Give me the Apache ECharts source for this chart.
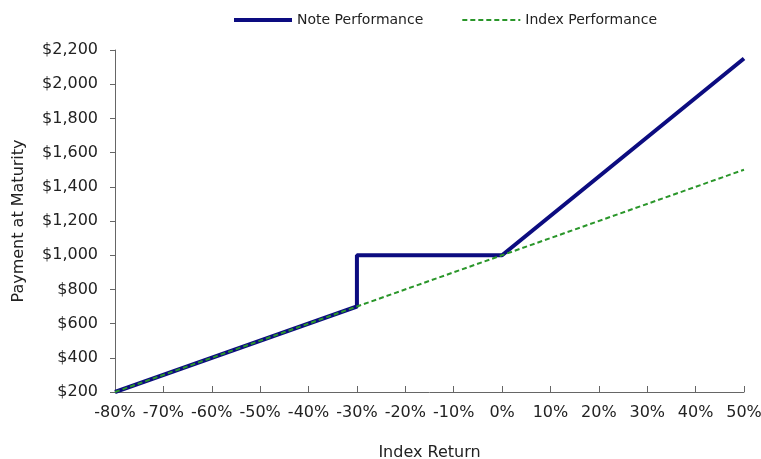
<!DOCTYPE html>
<html lang="en">
<head>
    <meta charset="UTF-8">
    <title>Note Performance</title>
    <script src="https://cdn.jsdelivr.net/npm/echarts@6/dist/echarts.min.js"></script>
    <style>
        html, body { margin: 0; padding: 0; background: #fff; }
        #main { width: 761px; height: 459px; }
    </style>
</head>
<body>
<div id="main"></div>
<script>
    // index return (%) and payment at maturity ($)
    var noteReturn = [-80, -30, -30, 0, 50];
    var notePayment = [200, 700, 1000, 1000, 2150];
    var indexReturn = [-80, 50];
    var indexPayment = [200, 1500];

    var xTicks = [-80, -70, -60, -50, -40, -30, -20, -10, 0, 10, 20, 30, 40, 50];
    var yTicks = [200, 400, 600, 800, 1000, 1200, 1400, 1600, 1800, 2000, 2200];

    function pairs(xs, ys) {
        var out = [];
        for (var i = 0; i < xs.length; i++) {
            out.push([xs[i], ys[i]]);
        }
        return out;
    }

    var font = 'DejaVu Sans';
    var noteColor = '#0c0c80';
    var indexColor = '#2a962a';
    var chart = echarts.init(document.getElementById('main'));
    var option = {
        animation: false,
        backgroundColor: '#fff',
        textStyle: { fontFamily: font },
        legend: {
            top: 8,
            left: 227,
            itemWidth: 58,
            itemHeight: 10,
            itemGap: 38,
            itemStyle: { opacity: 0 },
            textStyle: { fontSize: 14, color: '#222', fontFamily: font },
            data: [
                { name: 'Note Performance', lineStyle: { width: 4, color: noteColor } },
                { name: 'Index Performance', lineStyle: { width: 2, color: indexColor, type: [5, 3] } }
            ]
        },
        grid: { left: 115, right: 17, top: 50, bottom: 67, outerBoundsMode: 'none', containLabel: false },
        xAxis: {
            type: 'value',
            min: xTicks[0],
            max: xTicks[xTicks.length - 1],
            interval: 10,
            name: 'Index Return',
            nameLocation: 'middle',
            nameGap: 53,
            nameTextStyle: { fontSize: 16, color: '#222' },
            axisLine: { onZero: false, lineStyle: { color: '#666', width: 1 } },
            axisTick: { inside: true, length: 6, lineStyle: { color: '#666' } },
            axisLabel: {
                fontSize: 16, color: '#222', margin: 13,
                formatter: function (v) { return v + '%'; }
            },
            splitLine: { show: false }
        },
        yAxis: {
            type: 'value',
            min: yTicks[0],
            max: yTicks[yTicks.length - 1],
            interval: 200,
            name: 'Payment at Maturity',
            nameLocation: 'middle',
            nameGap: 88,
            nameTextStyle: { fontSize: 16, color: '#222' },
            axisLine: { show: true, onZero: false, lineStyle: { color: '#666', width: 1 } },
            axisTick: { show: true, length: 5, lineStyle: { color: '#666' } },
            axisLabel: {
                fontSize: 16, color: '#222', margin: 17,
                formatter: function (v) { return '$' + v.toLocaleString('en-US'); }
            },
            splitLine: { show: false }
        },
        series: [
            {
                name: 'Note Performance',
                type: 'line',
                symbol: 'none',
                data: pairs(noteReturn, notePayment),
                lineStyle: { color: noteColor, width: 4 },
                itemStyle: { color: noteColor },
                z: 2
            },
            {
                name: 'Index Performance',
                type: 'line',
                symbol: 'none',
                data: pairs(indexReturn, indexPayment),
                lineStyle: { color: indexColor, width: 2, type: [5, 3] },
                itemStyle: { color: indexColor },
                z: 3
            }
        ]
    };
    chart.setOption(option);
</script>
</body>
</html>
